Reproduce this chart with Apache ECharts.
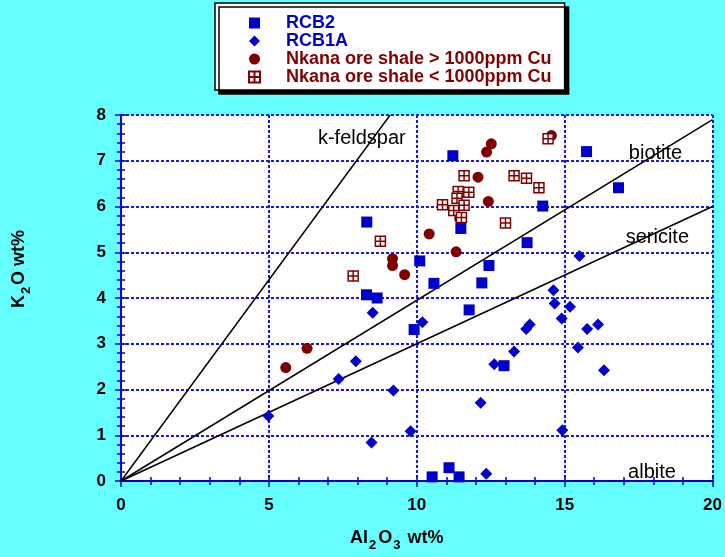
<!DOCTYPE html>
<html>
<head>
<meta charset="utf-8">
<script src="https://cdn.jsdelivr.net/npm/echarts@6/dist/echarts.min.js"></script>
<style>
  html, body { margin: 0; padding: 0; background: #66ffff; }
  #chart { width: 725px; height: 557px; }
</style>
</head>
<body>
<div id="chart"></div>
<script>
// Al2O3 (wt%) vs K2O (wt%) sample analyses
const rcb2 = [
  [11.22, 7.11], [15.74, 7.20], [16.82, 6.41], [14.26, 6.01], [8.31, 5.66],
  [11.49, 5.52], [13.73, 5.21], [10.10, 4.81], [10.58, 4.32], [12.44, 4.71],
  [12.20, 4.33], [8.30, 4.07], [8.66, 4.00], [11.77, 3.74], [9.91, 3.31],
  [12.95, 2.52], [10.52, 0.09], [11.09, 0.29], [11.43, 0.09]
];
const rcb1a = [
  [8.51, 3.68], [7.94, 2.62], [7.36, 2.23], [9.21, 1.98], [4.98, 1.42],
  [8.47, 0.84], [9.79, 1.09], [14.62, 4.17], [14.66, 3.88], [15.18, 3.81],
  [14.90, 3.55], [10.19, 3.47], [13.82, 3.42], [13.70, 3.32], [15.76, 3.32],
  [16.13, 3.42], [15.45, 2.92], [13.29, 2.83], [12.62, 2.55], [16.33, 2.42],
  [12.16, 1.71], [14.92, 1.11], [12.35, 0.16], [15.50, 4.92]
];
const nkanaHigh = [
  [14.55, 7.55], [12.52, 7.37], [12.36, 7.19], [12.07, 6.64], [12.42, 6.11],
  [11.45, 5.74], [10.42, 5.40], [11.33, 5.01], [9.18, 4.86], [9.18, 4.71],
  [9.59, 4.51], [6.29, 2.90], [5.57, 2.48]
];
const nkanaLow = [
  [14.44, 7.48], [11.60, 6.67], [13.29, 6.67], [13.71, 6.62], [14.13, 6.41],
  [11.76, 6.31], [11.40, 6.33], [11.36, 6.18], [10.87, 6.04], [11.60, 6.03],
  [11.25, 5.91], [11.51, 5.76], [13.00, 5.64], [8.77, 5.24], [7.85, 4.48]
];

// Mineral reference lines through the origin
const kFeldsparLine = [[0, 0], [9.1, 8]];
const biotiteLine = [[0, 0], [20, 7.9]];
const sericiteLine = [[0, 0], [20, 6.0]];

// Mineral names placed in the field
const mineralLabels = [
  [8.16, 7.47, 'k-feldspar'],
  [18.09, 7.15, 'biotite'],
  [18.15, 5.32, 'sericite'],
  [17.97, 0.18, 'albite']
];

const xTicks = { min: 0, max: 20, interval: 5 };
const yTicks = { min: 0, max: 8, interval: 1 };

const seriesNames = [
  'RCB2',
  'RCB1A',
  'Nkana ore shale > 1000ppm Cu',
  'Nkana ore shale < 1000ppm Cu'
];

const BLUE = '#0000cc';
const DARKRED = '#800000';
const AXIS_BLUE = '#0000cc';
const narrow = "'Liberation Sans Narrow', 'Liberation Sans', Arial, sans-serif";
const sans = "'Liberation Sans', Arial, Helvetica, sans-serif";

const crossSquare = 'path://M0 0 L10 0 L10 10 L0 10 Z M5 0 L5 10 M0 5 L10 5';

function refLine(data) {
  return {
    type: 'line',
    data: data,
    symbol: 'none',
    silent: true,
    z: 1,
    lineStyle: { color: '#000', width: 1.5 },
    animation: false
  };
}

const tickCommon = {
  axisLine: { show: true, lineStyle: { color: AXIS_BLUE, width: 2 } },
  axisTick: { show: true, inside: true, length: 6, lineStyle: { color: AXIS_BLUE, width: 1.5 } },
  minorTick: { show: true, splitNumber: 5, length: 4, lineStyle: { color: AXIS_BLUE, width: 1.5 } }
};

const chart = echarts.init(document.getElementById('chart'), null, { renderer: 'canvas' });

chart.setOption({
  backgroundColor: '#66ffff',
  animation: false,
  grid: {
    left: 121, right: 12, top: 115, bottom: 76,
    show: true, backgroundColor: '#ffffff', borderWidth: 0
  },
  legend: {
    orient: 'vertical',
    left: 215, top: 3,
    padding: [11, 13, 4, 33],
    itemWidth: 11, itemHeight: 11, itemGap: 0,
    backgroundColor: '#ffffff',
    borderColor: '#000', borderWidth: 1.5,
    shadowColor: '#000', shadowBlur: 0, shadowOffsetX: 4, shadowOffsetY: 4,
    selectedMode: false,
    textStyle: { fontFamily: sans, fontWeight: 'bold', fontSize: 18, padding: [0, 0, 0, 21] },
    data: [
      { name: seriesNames[0], textStyle: { color: BLUE } },
      { name: seriesNames[1], textStyle: { color: BLUE } },
      { name: seriesNames[2], textStyle: { color: DARKRED } },
      { name: seriesNames[3], textStyle: { color: DARKRED } }
    ]
  },
  xAxis: [
    Object.assign({
      type: 'value', position: 'bottom',
      min: xTicks.min, max: xTicks.max, interval: xTicks.interval,
      name: 'Al{sub|2}O{sub|3} wt%', nameLocation: 'middle', nameGap: 44,
      nameTextStyle: {
        fontFamily: narrow, fontWeight: 'bold', fontSize: 18, color: '#000',
        padding: [0, 40, 0, 0],
        rich: { sub: { fontFamily: narrow, fontWeight: 'bold', fontSize: 13, color: '#000', padding: [14, 2, 0, 1] } }
      },
      axisLabel: { fontFamily: narrow, fontWeight: 'bold', fontSize: 17, color: '#000', margin: 16 },
      splitLine: { show: true, lineStyle: { color: '#1a1ae0', width: 2, type: [3, 2] } }
    }, tickCommon),
    Object.assign({
      type: 'value', position: 'top',
      min: xTicks.min, max: xTicks.max, interval: xTicks.interval,
      axisLabel: { show: false }, splitLine: { show: false }
    }, tickCommon)
  ],
  yAxis: [
    Object.assign({
      type: 'value', position: 'left',
      min: yTicks.min, max: yTicks.max, interval: yTicks.interval,
      name: 'K{sub|2}O wt%', nameLocation: 'middle', nameGap: 88,
      nameTextStyle: {
        fontFamily: narrow, fontWeight: 'bold', fontSize: 18, color: '#000',
        padding: [0, 0, 0, 58],
        rich: { sub: { fontFamily: narrow, fontWeight: 'bold', fontSize: 13, color: '#000', padding: [14, 2, 0, 1] } }
      },
      axisLabel: { fontFamily: narrow, fontWeight: 'bold', fontSize: 17, color: '#000', margin: 15 },
      splitLine: { show: true, lineStyle: { color: '#1a1ae0', width: 2, type: [3, 2] } }
    }, tickCommon),
    Object.assign({
      type: 'value', position: 'right',
      min: yTicks.min, max: yTicks.max, interval: yTicks.interval,
      axisLabel: { show: false }, splitLine: { show: false }
    }, tickCommon)
  ],
  series: [
    refLine(kFeldsparLine),
    refLine(biotiteLine),
    refLine(sericiteLine),
    {
      type: 'scatter',
      data: mineralLabels,
      symbolSize: 1,
      silent: true,
      z: 1,
      itemStyle: { color: 'rgba(0,0,0,0)' },
      label: {
        show: true, position: [0, 0], align: 'center', verticalAlign: 'middle',
        formatter: p => p.value[2],
        fontFamily: sans, fontSize: 20, color: '#000', opacity: 1
      }
    },
    {
      name: seriesNames[0], type: 'scatter', data: rcb2,
      symbol: 'rect', symbolSize: 11, z: 2,
      itemStyle: { color: BLUE, opacity: 1 }
    },
    {
      name: seriesNames[1], type: 'scatter', data: rcb1a,
      symbol: 'diamond', symbolSize: 12, z: 2,
      itemStyle: { color: BLUE, opacity: 1 }
    },
    {
      name: seriesNames[2], type: 'scatter', data: nkanaHigh,
      symbol: 'circle', symbolSize: 11, z: 3,
      itemStyle: { color: DARKRED, opacity: 1 }
    },
    {
      name: seriesNames[3], type: 'scatter', data: nkanaLow,
      symbol: crossSquare, symbolSize: 10, z: 4,
      itemStyle: { color: '#ffffff', borderColor: DARKRED, borderWidth: 1.5, opacity: 1 }
    }
  ]
});
</script>
</body>
</html>
